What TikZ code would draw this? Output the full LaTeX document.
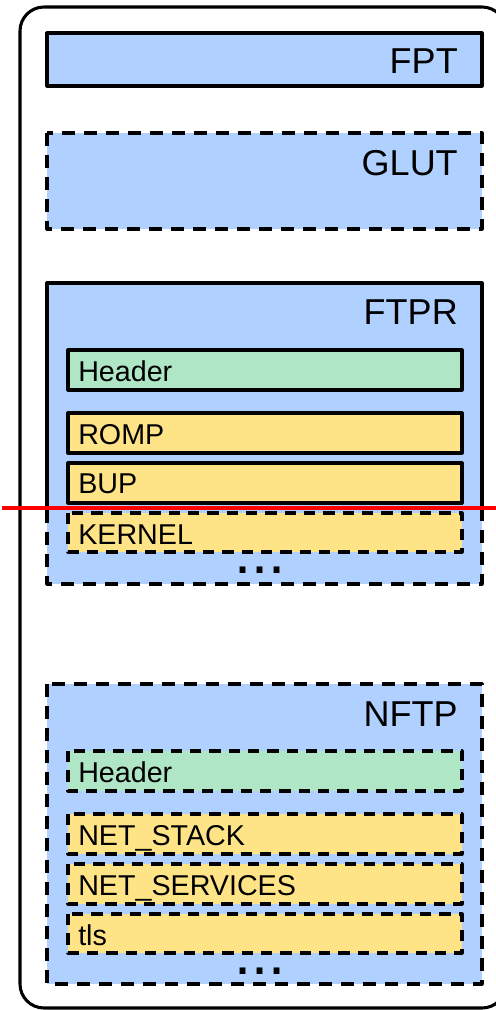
\documentclass[tikz,border=0pt]{standalone}
\usepackage{fontspec}
\setmainfont{Liberation Sans}
\usepackage{tikz}

\definecolor{partblue}{RGB}{176,208,255}
\definecolor{hdrgreen}{RGB}{174,230,198}
\definecolor{modyellow}{RGB}{255,228,135}

\tikzset{
  partbox/.style={fill=partblue,draw=black,line width=2.4pt,line join=round},
  modbox/.style={fill=modyellow,draw=black,line width=2.4pt,line join=round},
  hdrbox/.style={fill=hdrgreen,draw=black,line width=2.4pt,line join=round},
  dashbig/.style={dash pattern=on 9.5pt off 7pt},
  dashsmall/.style={dash pattern=on 8.5pt off 6pt},
  bigtxt/.style={anchor=base east,inner sep=0pt,font=\fontsize{27}{32}\selectfont},
  smalltxt/.style={anchor=base west,inner sep=0pt,font=\fontsize{21.5}{25}\selectfont},
  dotstxt/.style={anchor=base,inner sep=0pt,font=\fontsize{46}{46}\selectfont}
}

\begin{document}
\begin{tikzpicture}[x=0.75pt,y=0.75pt,yscale=-1,xscale=1]
\useasboundingbox (0,0) rectangle (496,1010);

%Outer frame
\draw [line width=2.3pt,rounded corners=18pt]   (20,7) rectangle (506,1008) ;

%FPT
\draw [partbox]   (47,33) rectangle (482,86) ;
%GLUT
\draw [partbox,dashbig]   (47,133) rectangle (482,229) ;
%FTPR, solid above the line and dashed below it
\fill [partblue]   (47,283) rectangle (482,584) ;
\draw [line width=2.4pt,line join=round]   (47,508) -- (47,283) -- (482,283) -- (482,508) ;
\draw [line width=2.4pt,line join=round,dashbig]   (482,508) -- (482,584) -- (47,584) -- (47,508) ;
\draw [hdrbox]   (68,350) rectangle (462,390) ;
\draw [modbox]   (68,413) rectangle (462,453) ;
\draw [modbox]   (68,463) rectangle (462,503) ;
\draw [modbox,dashsmall]   (68,513) rectangle (462,552) ;
%NFTP
\draw [partbox,dashbig]   (47,684) rectangle (482,984) ;
\draw [hdrbox,dashsmall]   (68,751) rectangle (462,791) ;
\draw [modbox,dashsmall]   (68,814) rectangle (462,854) ;
\draw [modbox,dashsmall]   (68,864) rectangle (462,904) ;
\draw [modbox,dashsmall]   (68,914) rectangle (462,953) ;

% Text Node
\node [bigtxt] (fpt) at (458,73) {FPT};
% Text Node
\node [bigtxt] (glut) at (458,175) {GLUT};
% Text Node
\node [bigtxt] (ftpr) at (458,324) {FTPR};
% Text Node
\node [smalltxt] (ftprhdr) at (78,381) {Header};
% Text Node
\node [smalltxt] (romp) at (78,444) {ROMP};
% Text Node
\node [smalltxt] (bup) at (78,493) {BUP};
% Text Node
\node [smalltxt] (kernel) at (78,544) {KERNEL};
% Text Node
\node [dotstxt] (ftprdots) at (260,573) {...};
% Text Node
\node [bigtxt] (nftp) at (458,726) {NFTP};
% Text Node
\node [smalltxt] (nftphdr) at (78,782) {Header};
% Text Node
\node [smalltxt] (netstack) at (78,845) {NET\_STACK};
% Text Node
\node [smalltxt] (netsvc) at (78,895) {NET\_SERVICES};
% Text Node
\node [smalltxt] (tls) at (78,945) {tls};
% Text Node
\node [dotstxt] (nftpdots) at (260,974) {...};

%Red line
\draw [color=red,line width=2.4pt]   (2,508) -- (496,508) ;

\end{tikzpicture}
\end{document}
